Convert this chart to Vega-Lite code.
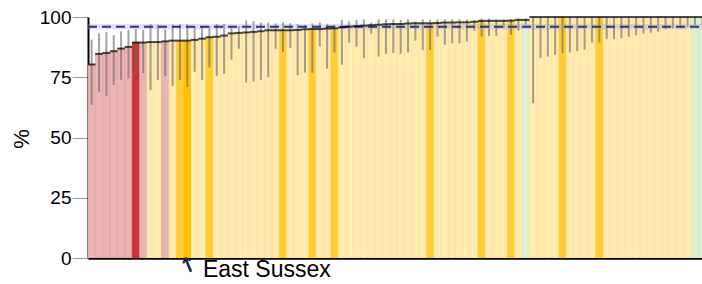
{
  "$schema": "https://vega.github.io/schema/vega-lite/v6.json",
  "width": 614,
  "height": 241,
  "autosize": {"type": "none"},
  "padding": {"left": 88, "top": 17, "right": 0, "bottom": 26},
  "config": {"view": {"stroke": null}, "font": "Liberation Sans"},
  "datasets": {
    "las": [
      {"i":0,"v":80.3,"lo":63.5,"hi":90.6,"c":"low"},
      {"i":1,"v":84.7,"lo":69.0,"hi":93.2,"c":"low"},
      {"i":2,"v":85.1,"lo":67.3,"hi":93.7,"c":"low"},
      {"i":3,"v":85.8,"lo":71.8,"hi":92.5,"c":"low"},
      {"i":4,"v":86.9,"lo":73.9,"hi":94.1,"c":"low"},
      {"i":5,"v":87.6,"lo":74.4,"hi":94.6,"c":"low"},
      {"i":6,"v":89.4,"lo":76.2,"hi":95.0,"c":"lowSE"},
      {"i":7,"v":89.4,"lo":76.7,"hi":94.6,"c":"low"},
      {"i":8,"v":89.6,"lo":69.7,"hi":97.0,"c":"sim"},
      {"i":9,"v":89.6,"lo":73.9,"hi":96.8,"c":"sim"},
      {"i":10,"v":89.9,"lo":75.5,"hi":94.9,"c":"low"},
      {"i":11,"v":90.2,"lo":71.4,"hi":96.8,"c":"sim"},
      {"i":12,"v":90.2,"lo":73.9,"hi":97.0,"c":"simSE"},
      {"i":13,"v":90.2,"lo":70.9,"hi":97.0,"c":"sel"},
      {"i":14,"v":90.5,"lo":77.3,"hi":96.0,"c":"sim"},
      {"i":15,"v":91.0,"lo":73.9,"hi":96.4,"c":"sim"},
      {"i":16,"v":91.6,"lo":79.1,"hi":96.2,"c":"simSE"},
      {"i":17,"v":91.85,"lo":75.6,"hi":97.1,"c":"sim"},
      {"i":18,"v":92.3,"lo":76.4,"hi":97.1,"c":"sim"},
      {"i":19,"v":93.2,"lo":82.3,"hi":96.0,"c":"sim"},
      {"i":20,"v":93.4,"lo":86.8,"hi":96.2,"c":"sim"},
      {"i":21,"v":93.6,"lo":72.8,"hi":98.6,"c":"sim"},
      {"i":22,"v":93.8,"lo":73.2,"hi":98.3,"c":"sim"},
      {"i":23,"v":94.1,"lo":73.9,"hi":97.7,"c":"sim"},
      {"i":24,"v":94.5,"lo":75.0,"hi":97.7,"c":"sim"},
      {"i":25,"v":94.5,"lo":86.8,"hi":97.4,"c":"sim"},
      {"i":26,"v":94.5,"lo":85.4,"hi":97.8,"c":"simSE"},
      {"i":27,"v":94.5,"lo":87.2,"hi":97.4,"c":"sim"},
      {"i":28,"v":94.6,"lo":75.9,"hi":97.0,"c":"sim"},
      {"i":29,"v":94.9,"lo":76.9,"hi":96.7,"c":"sim"},
      {"i":30,"v":95.0,"lo":76.9,"hi":97.4,"c":"simSE"},
      {"i":31,"v":95.0,"lo":87.7,"hi":97.7,"c":"sim"},
      {"i":32,"v":95.2,"lo":78.6,"hi":97.2,"c":"sim"},
      {"i":33,"v":95.3,"lo":85.3,"hi":96.7,"c":"simSE"},
      {"i":34,"v":95.7,"lo":80.2,"hi":98.8,"c":"sim"},
      {"i":35,"v":96.0,"lo":89.4,"hi":98.1,"c":"sim"},
      {"i":36,"v":96.2,"lo":87.7,"hi":98.8,"c":"sim"},
      {"i":37,"v":96.4,"lo":82.9,"hi":99.0,"c":"sim"},
      {"i":38,"v":96.6,"lo":93.0,"hi":97.8,"c":"sim"},
      {"i":39,"v":96.8,"lo":83.6,"hi":99.0,"c":"sim"},
      {"i":40,"v":97.0,"lo":84.7,"hi":99.0,"c":"sim"},
      {"i":41,"v":97.1,"lo":85.0,"hi":99.0,"c":"sim"},
      {"i":42,"v":97.1,"lo":84.7,"hi":98.8,"c":"sim"},
      {"i":43,"v":97.3,"lo":85.3,"hi":99.0,"c":"sim"},
      {"i":44,"v":97.4,"lo":90.2,"hi":98.1,"c":"sim"},
      {"i":45,"v":97.4,"lo":86.3,"hi":99.0,"c":"sim"},
      {"i":46,"v":97.4,"lo":86.3,"hi":98.8,"c":"simSE"},
      {"i":47,"v":97.5,"lo":91.9,"hi":99.0,"c":"sim"},
      {"i":48,"v":97.7,"lo":88.5,"hi":99.0,"c":"sim"},
      {"i":49,"v":97.7,"lo":89.1,"hi":99.0,"c":"sim"},
      {"i":50,"v":97.8,"lo":89.1,"hi":99.0,"c":"sim"},
      {"i":51,"v":97.8,"lo":89.8,"hi":99.0,"c":"sim"},
      {"i":52,"v":98.0,"lo":94.3,"hi":98.8,"c":"sim"},
      {"i":53,"v":98.4,"lo":91.9,"hi":99.4,"c":"simSE"},
      {"i":54,"v":98.4,"lo":92.1,"hi":99.4,"c":"sim"},
      {"i":55,"v":98.4,"lo":92.1,"hi":99.0,"c":"sim"},
      {"i":56,"v":98.4,"lo":95.3,"hi":99.0,"c":"sim"},
      {"i":57,"v":98.5,"lo":92.6,"hi":99.0,"c":"simSE"},
      {"i":58,"v":98.8,"lo":94.3,"hi":99.4,"c":"sim"},
      {"i":59,"v":98.8,"lo":96.7,"hi":99.4,"c":"high"},
      {"i":60,"v":100,"lo":64.2,"hi":100,"c":"sim"},
      {"i":61,"v":100,"lo":82.9,"hi":100,"c":"sim"},
      {"i":62,"v":100,"lo":83.6,"hi":100,"c":"sim"},
      {"i":63,"v":100,"lo":84.3,"hi":100,"c":"sim"},
      {"i":64,"v":100,"lo":85.0,"hi":100,"c":"simSE"},
      {"i":65,"v":100,"lo":85.3,"hi":100,"c":"sim"},
      {"i":66,"v":100,"lo":85.9,"hi":100,"c":"sim"},
      {"i":67,"v":100,"lo":86.4,"hi":100,"c":"sim"},
      {"i":68,"v":100,"lo":89.4,"hi":100,"c":"sim"},
      {"i":69,"v":100,"lo":89.5,"hi":100,"c":"simSE"},
      {"i":70,"v":100,"lo":90.8,"hi":100,"c":"sim"},
      {"i":71,"v":100,"lo":90.8,"hi":100,"c":"sim"},
      {"i":72,"v":100,"lo":91.2,"hi":100,"c":"sim"},
      {"i":73,"v":100,"lo":91.8,"hi":100,"c":"sim"},
      {"i":74,"v":100,"lo":92.4,"hi":100,"c":"sim"},
      {"i":75,"v":100,"lo":93.1,"hi":100,"c":"sim"},
      {"i":76,"v":100,"lo":93.5,"hi":100,"c":"sim"},
      {"i":77,"v":100,"lo":93.9,"hi":100,"c":"sim"},
      {"i":78,"v":100,"lo":94.9,"hi":100,"c":"sim"},
      {"i":79,"v":100,"lo":95.3,"hi":100,"c":"sim"},
      {"i":80,"v":100,"lo":95.3,"hi":100,"c":"sim"},
      {"i":81,"v":100,"lo":96.0,"hi":100,"c":"sim"},
      {"i":82,"v":100,"lo":96.7,"hi":100,"c":"high"},
      {"i":83,"v":100,"lo":97.0,"hi":100,"c":"high"}
    ],
    "note": [{"i":13,"label":"East Sussex","arrowPos":-3.6,"textPos":-5.0}]
  },
  "encoding": {
    "x": {
      "field": "i", "type": "ordinal",
      "scale": {"type": "band", "paddingInner": 0, "paddingOuter": 0, "range": [0, 618]},
      "axis": {"title": null, "labels": false, "ticks": false, "domainColor": "#000000", "domainWidth": 2.5}
    }
  },
  "layer": [
    {
      "data": {"name": "las"},
      "mark": {"type": "bar", "clip": true, "strokeWidth": 0.45},
      "encoding": {
        "y": {
          "field": "v", "type": "quantitative",
          "scale": {"domain": [0, 100], "nice": false, "zero": true},
          "axis": {
            "title": "%", "titleFontSize": 22, "titleFontWeight": "normal", "titleColor": "#000000",
            "titleAngle": -90, "titleX": -66.5, "titleY": 121.5, "titleAlign": "center", "titleBaseline": "middle",
            "values": [0, 25, 50, 75, 100], "grid": false,
            "labelFontSize": 19, "labelColor": "#000000", "labelPadding": 1,
            "tickSize": 16, "tickColor": "#999999", "tickWidth": 1,
            "domainColor": "#000000", "domainWidth": 2
          }
        },
        "color": {
          "field": "c", "type": "nominal", "legend": null,
          "scale": {"domain": ["low", "lowSE", "sim", "simSE", "sel", "high"],
                    "range": ["#ebb4b4", "#cc3333", "#ffeab2", "#ffcc33", "#ffc000", "#def0d0"]}
        },
        "stroke": {
          "field": "c", "type": "nominal", "legend": null,
          "scale": {"domain": ["low", "lowSE", "sim", "simSE", "sel", "high"],
                    "range": ["#dd8c8c", "#cc3333", "#ffdc7a", "#ffcc33", "#ffc000", "#c8e4b4"]}
        }
      }
    },
    {
      "data": {"name": "las"},
      "mark": {"type": "rule", "color": "#666666", "opacity": 0.6, "strokeWidth": 2},
      "encoding": {
        "y": {"field": "lo", "type": "quantitative"},
        "y2": {"field": "hi"}
      }
    },
    {
      "data": {"values": [{"lo": 94.9, "hi": 97.1}]},
      "mark": {"type": "rect", "color": "#9aa0c8", "opacity": 0.3},
      "encoding": {
        "x": {"value": 0},
        "x2": {"value": 614},
        "y": {"field": "lo", "type": "quantitative"},
        "y2": {"field": "hi"}
      }
    },
    {
      "data": {"values": [{"eng": 96.0}]},
      "mark": {"type": "rule", "color": "#2e3570", "strokeWidth": 2, "strokeDash": [9, 5]},
      "encoding": {
        "x": {"value": 0},
        "x2": {"value": 614},
        "y": {"field": "eng", "type": "quantitative"}
      }
    },
    {
      "data": {"name": "las"},
      "mark": {"type": "tick", "orient": "horizontal", "color": "#000000", "thickness": 2, "size": 7.6},
      "encoding": {
        "y": {"field": "v", "type": "quantitative"}
      }
    },
    {
      "data": {"name": "note"},
      "mark": {"type": "text", "text": "↑", "font": "DejaVu Sans", "fontSize": 21, "fontWeight": "bold", "color": "#1a2060", "angle": -22, "align": "center", "baseline": "middle", "dx": 1.5},
      "encoding": {
        "y": {"field": "arrowPos", "type": "quantitative"}
      }
    },
    {
      "data": {"name": "note"},
      "mark": {"type": "text", "fontSize": 23, "color": "#000000", "align": "left", "baseline": "middle", "dx": 15.6},
      "encoding": {
        "y": {"field": "textPos", "type": "quantitative"},
        "text": {"field": "label"}
      }
    }
  ]
}
